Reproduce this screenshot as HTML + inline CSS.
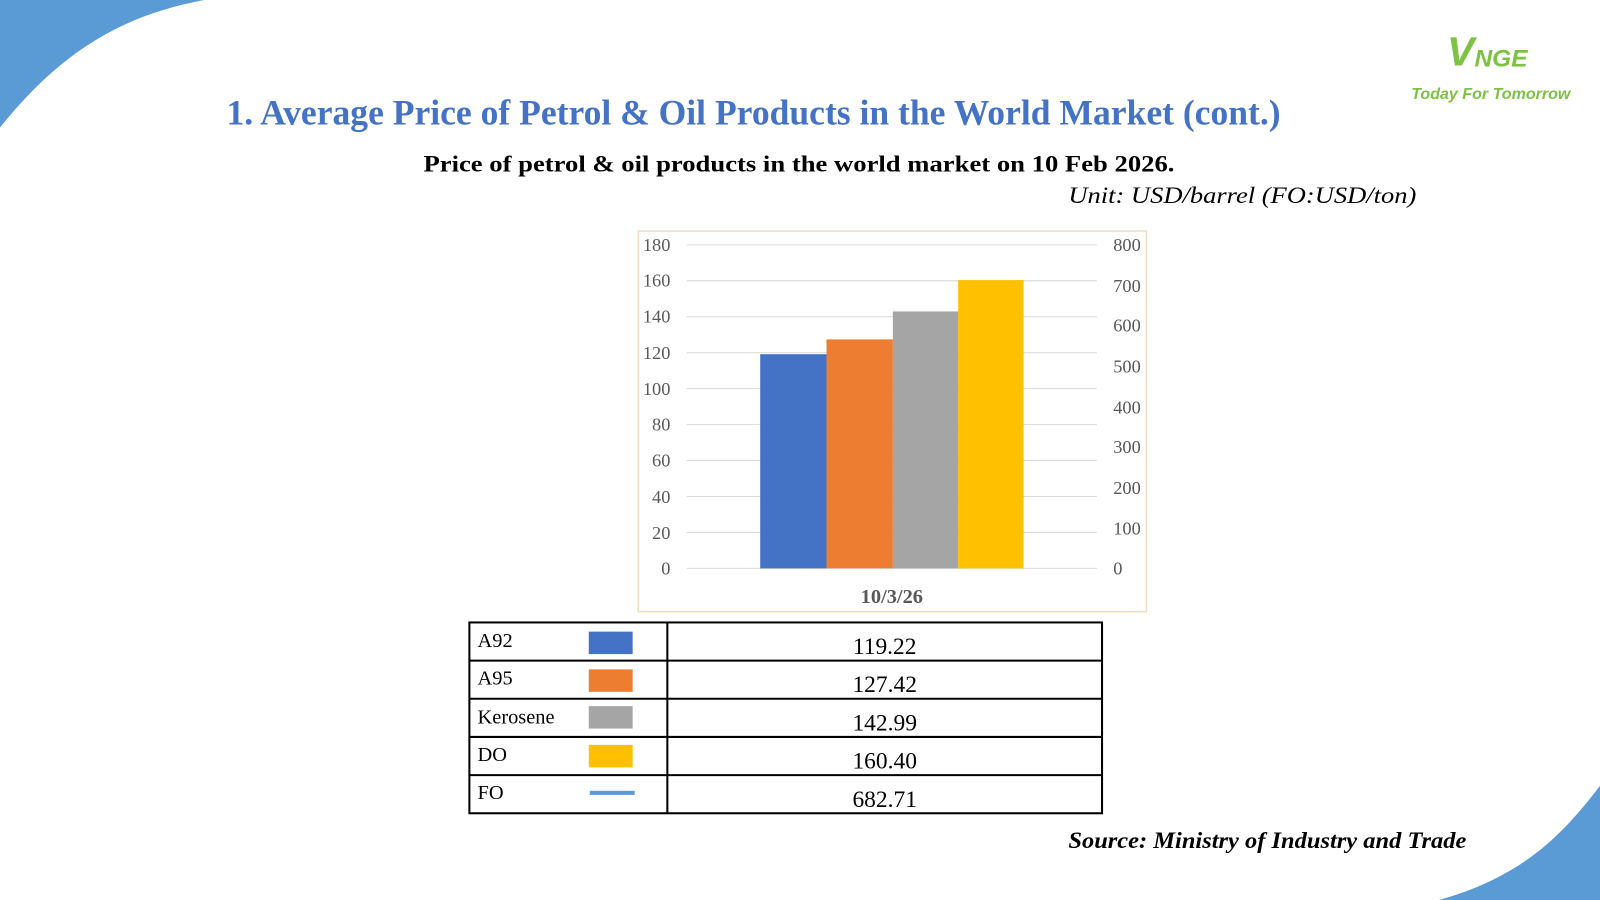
<!DOCTYPE html>
<html><head><meta charset="utf-8"><style>
html,body{margin:0;padding:0;background:#fff;}
svg{display:block;}
</style></head><body>
<svg width="1600" height="900" viewBox="0 0 1568 882" preserveAspectRatio="none" xmlns="http://www.w3.org/2000/svg">
<rect width="1568" height="882" fill="#fff"/>
<path d="M0,0 L200,0 C120,15 60,50 0,125 Z" fill="#5b9bd5"/>
<path d="M1568,770 C1530,820 1490,860 1410,882 L1568,882 Z" fill="#5b9bd5"/>
<g font-family="Liberation Sans, sans-serif" font-style="italic" font-weight="bold">
<text x="1418" y="64" font-size="40" fill="#7dc242">V</text>
<text x="1445" y="65" font-size="24" fill="#7dc242">NGE</text>
<text x="1383" y="97" font-size="15" fill="#7dc242" textLength="156" lengthAdjust="spacingAndGlyphs">Today For Tomorrow</text>
</g>
<g font-family="Liberation Serif, serif">
<text x="222" y="122" font-size="35" font-weight="bold" fill="#4472c4" textLength="1033" lengthAdjust="spacingAndGlyphs">1. Average Price of Petrol &amp; Oil Products in the World Market (cont.)</text>
<text x="415" y="168" font-size="23" font-weight="bold" fill="#000" textLength="736" lengthAdjust="spacingAndGlyphs">Price of petrol &amp; oil products in the world market on 10 Feb 2026.</text>
<text x="1047" y="199" font-size="23" font-style="italic" fill="#000" textLength="341" lengthAdjust="spacingAndGlyphs">Unit: USD/barrel (FO:USD/ton)</text>
<rect x="625.5" y="226.5" width="498" height="373" fill="#fff" stroke="#f3dcc0" stroke-width="1.5"/>
<g stroke="#d9d9d9" stroke-width="1">
<line x1="673" x2="1075" y1="240" y2="240"/><line x1="673" x2="1075" y1="275.2" y2="275.2"/>
<line x1="673" x2="1075" y1="310.4" y2="310.4"/><line x1="673" x2="1075" y1="345.7" y2="345.7"/>
<line x1="673" x2="1075" y1="380.9" y2="380.9"/><line x1="673" x2="1075" y1="416.1" y2="416.1"/>
<line x1="673" x2="1075" y1="451.3" y2="451.3"/><line x1="673" x2="1075" y1="486.6" y2="486.6"/>
<line x1="673" x2="1075" y1="521.8" y2="521.8"/><line x1="673" x2="1075" y1="557" y2="557"/>
</g>
<rect x="745" y="347.1" width="65" height="209.9" fill="#4472c4"/>
<rect x="810" y="332.6" width="65" height="224.4" fill="#ed7d31"/>
<rect x="875" y="305.2" width="64" height="251.8" fill="#a5a5a5"/>
<rect x="939" y="274.5" width="64" height="282.5" fill="#ffc000"/>
<g font-size="18" fill="#595959" text-anchor="end">
<text x="657" y="246">180</text><text x="657" y="281">160</text><text x="657" y="316">140</text>
<text x="657" y="352">120</text><text x="657" y="387">100</text><text x="657" y="422">80</text>
<text x="657" y="457">60</text><text x="657" y="493">40</text><text x="657" y="528">20</text><text x="657" y="563">0</text>
</g>
<g font-size="18" fill="#595959">
<text x="1091" y="246">800</text><text x="1091" y="286">700</text><text x="1091" y="325">600</text>
<text x="1091" y="365">500</text><text x="1091" y="405">400</text><text x="1091" y="444">300</text>
<text x="1091" y="484">200</text><text x="1091" y="524">100</text><text x="1091" y="563">0</text>
</g>
<text x="874" y="591" font-size="20" font-weight="bold" fill="#595959" text-anchor="middle">10/3/26</text>
<g stroke="#000" stroke-width="2" fill="none">
<rect x="460" y="610" width="620" height="187"/>
<line x1="654" y1="610" x2="654" y2="797"/>
<line x1="460" y1="647.4" x2="1080" y2="647.4"/><line x1="460" y1="684.8" x2="1080" y2="684.8"/>
<line x1="460" y1="722.2" x2="1080" y2="722.2"/><line x1="460" y1="759.6" x2="1080" y2="759.6"/>
</g>
<rect x="577" y="619" width="43" height="22" fill="#4472c4"/>
<rect x="577" y="656" width="43" height="22" fill="#ed7d31"/>
<rect x="577" y="692" width="43" height="22" fill="#a5a5a5"/>
<rect x="577" y="730" width="43" height="22" fill="#ffc000"/>
<rect x="578" y="775" width="44" height="4" fill="#5b9bd5"/>
<g font-size="20" fill="#000">
<text x="468" y="634">A92</text><text x="468" y="671">A95</text><text x="468" y="709">Kerosene</text>
<text x="468" y="746">DO</text><text x="468" y="783">FO</text>
</g>
<g font-size="23" fill="#000" text-anchor="middle">
<text x="867" y="641">119.22</text><text x="867" y="678">127.42</text><text x="867" y="716">142.99</text>
<text x="867" y="753">160.40</text><text x="867" y="791">682.71</text>
</g>
<text x="1047" y="831" font-size="23" font-weight="bold" font-style="italic" fill="#000" textLength="390" lengthAdjust="spacingAndGlyphs">Source: Ministry of Industry and Trade</text>
</g>
</svg>
</body></html>
